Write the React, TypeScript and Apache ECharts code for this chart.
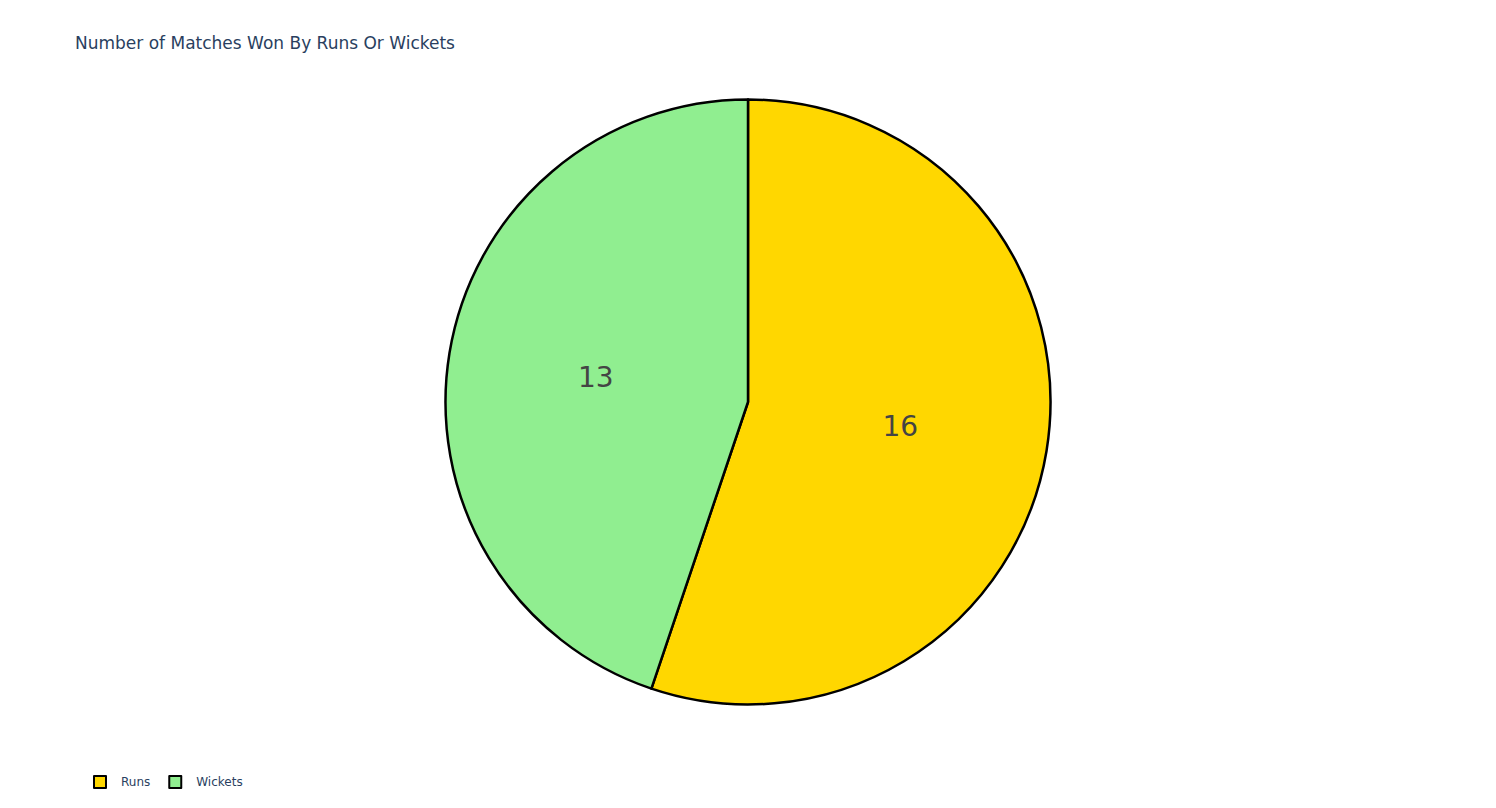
import React, { useEffect, useRef } from "react";
import * as echarts from "echarts";

const categories = ["Runs", "Wickets"];
const values = [16, 13];
const colors = ["#FFD700", "#90EE90"];
const titleText = "Number of Matches Won By Runs Or Wickets";

export default function App() {
  const ref = useRef<HTMLDivElement>(null);
  useEffect(() => {
    if (!ref.current) return;
    const chart = echarts.init(ref.current, undefined, { renderer: "svg" });
    chart.setOption({
      animation: false,
      backgroundColor: "#ffffff",
      title: {
        text: titleText,
        left: 75,
        top: 34,
        padding: 0,
        textStyle: {
          fontFamily: "DejaVu Sans",
          fontSize: 17,
          fontWeight: "normal",
          color: "#2a3f5f",
        },
      },
      legend: {
        left: 93,
        top: 775,
        padding: 0,
        icon: "rect",
        itemWidth: 12,
        itemHeight: 12,
        itemGap: 18,
        itemStyle: { borderColor: "#000000", borderWidth: 2 },
        textStyle: {
          fontFamily: "DejaVu Sans",
          fontSize: 12,
          color: "#2a3f5f",
          padding: [0, 0, 0, 10],
        },
        data: categories,
      },
      series: [
        {
          type: "pie",
          center: [748, 402],
          radius: 302.5,
          startAngle: 90,
          clockwise: true,
          avoidLabelOverlap: false,
          data: categories.map((name, i) => ({
            name,
            value: values[i],
            itemStyle: { color: colors[i] },
          })),
          itemStyle: { borderColor: "#000000", borderWidth: 2.5 },
          label: {
            show: true,
            position: "inside",
            formatter: "{c}",
            fontFamily: "DejaVu Sans",
            fontSize: 28,
            color: "#444444",
            textBorderWidth: 0,
          },
          labelLine: { show: false },
          emphasis: { disabled: true },
        },
      ],
    });
    return () => chart.dispose();
  }, []);
  return <div ref={ref} style={{ width: 1496, height: 808, position: "absolute", left: 0, top: 0 }} />;
}
